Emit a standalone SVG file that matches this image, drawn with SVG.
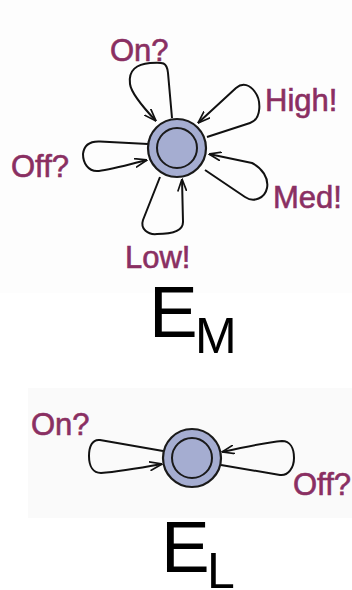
<svg xmlns="http://www.w3.org/2000/svg" width="352" height="590" viewBox="0 0 352 590">
<defs>
<marker id="arr" viewBox="0 0 13 10" refX="12.5" refY="5" markerWidth="13" markerHeight="10" markerUnits="userSpaceOnUse" orient="auto">
<path d="M0,0.5 L12.5,5 L0,9.5" fill="none" stroke="#111" stroke-width="1.7"/>
</marker>
<style>
.st{fill:#a5add1;stroke:#1a1a1a;stroke-width:2.2}
.in{fill:none;stroke:#1a1a1a;stroke-width:2}
.lp{fill:none;stroke:#111;stroke-width:2;stroke-linejoin:round;marker-end:url(#arr)}
.lbl{font-family:"Liberation Sans",Arial,sans-serif;font-size:31px;fill:#8a2f62;stroke:#8a2f62;stroke-width:0.6}
.big{font-family:"Liberation Sans",Arial,sans-serif;fill:#000}
</style>
</defs>
<rect x="0" y="0" width="352" height="293" fill="#fdfdfd"/>
<rect x="28" y="388" width="324" height="130" fill="#fafafa"/>
<g id="connectors">
<path class="lp" d="M172,118 L168,73 C167,62 163,62 150,63 C137,64 128,70 130,84 C131,92 140,104 156,121"/>
<path class="lp" d="M207,137 L250,123 C262,119 261,100 255,92 C250,85 243,82 236,88 L198,123"/>
<path class="lp" d="M205,170 L245,197 C254,203 265,198 267,188 C269,178 262,168 252,163 L209,154"/>
<path class="lp" d="M160,177 L143,220 C140,229 148,235 157,234 C170,234 183,232 183,222 L182,179"/>
<path class="lp" d="M148,144 L100,141.5 C90,141 84,145 83,154 C83,163 88,171 97,171 C105,171 115,168 147,160"/>
<path class="lp" d="M163,451 L100,440 C92,439 89,447 89,456 C89,466 93,473 101,473 C115,472 140,468 162,464"/>
<path class="lp" d="M221,465 L280,475 C288,476 294,468 294,458 C294,448 290,441 282,441 C268,442 240,448 222,452"/>
</g>
<g id="EM">
<circle class="st" cx="177" cy="148" r="29"/>
<circle class="in" cx="177" cy="148" r="20"/>
</g>
<g id="EL">
<circle class="st" cx="192" cy="458" r="29"/>
<circle class="in" cx="192" cy="458" r="20"/>
</g>
<g id="labels">
<text class="lbl" x="110" y="61">On?</text>
<text class="lbl" x="265" y="111">High!</text>
<text class="lbl" x="11" y="177">Off?</text>
<text class="lbl" x="273" y="208">Med!</text>
<text class="lbl" x="125" y="268">Low!</text>
<text class="lbl" x="31" y="435">On?</text>
<text class="lbl" x="293" y="495">Off?</text>
</g>
<g id="titles">
<text class="big" x="149" y="337" font-size="73">E</text>
<text class="big" x="195" y="353" font-size="50">M</text>
<text class="big" x="161" y="572" font-size="73">E</text>
<text class="big" x="207" y="588" font-size="50">L</text>
</g>
</svg>
